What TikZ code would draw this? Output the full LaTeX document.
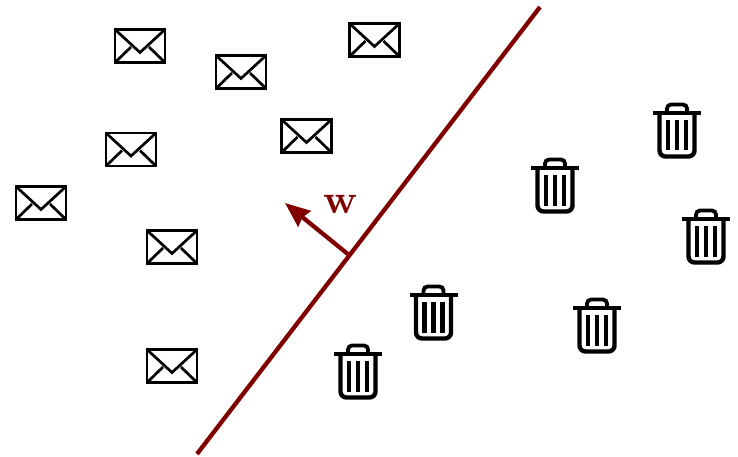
\documentclass[tikz,border=0pt]{standalone}
\usepackage{amssymb,amsmath}
\usetikzlibrary{arrows.meta}
\definecolor{darkred}{RGB}{128,0,0}
\tikzset{
  boundary/.style = {draw=darkred, line width=4.3pt},
  weight/.style = {draw=darkred, line width=4.3pt, -{Stealth[length=25pt,width=20pt,inset=2.5pt]}},
  pics/envelope/.style = {code = {
      \draw[line width=2.9pt] (-25,-16.5) rectangle (25,16.5);
      \draw[line width=2.7pt] (-25,-16.5) -- (0,6.5) -- (25,-16.5);
      \draw[line width=2.7pt] (-25,16.5) -- (-9,1);
      \draw[line width=2.7pt] (25,16.5) -- (9,1);
  }},
  pics/trashbin/.style = {code = {
      \draw[line width=4.2pt] (-24,-18) -- (24,-18);
      \draw[line width=3.8pt, rounded corners=4pt] (-10,-18) -- (-10,-26.5) -- (10,-26.5) -- (10,-18);
      \draw[line width=4.4pt, rounded corners=6pt] (-17.5,-18) -- (-17.5,25.5) -- (17.5,25.5) -- (17.5,-18);
      \draw[line width=4.6pt] (-9,-11) -- (-9,19.5);
      \draw[line width=4.6pt] (0,-11) -- (0,19.5);
      \draw[line width=4.6pt] (9,-11) -- (9,19.5);
  }}
}
\begin{document}
\begin{tikzpicture}[x=1pt, y=-1pt]
  \useasboundingbox (0,0) rectangle (738,457);

  \pic (mail1) at (140,46) {envelope};
  \pic (mail2) at (241,72) {envelope};
  \pic (mail3) at (374.5,40) {envelope};
  \pic (mail4) at (131,149.5) {envelope};
  \pic (mail5) at (306.5,136) {envelope};
  \pic (mail6) at (41,203) {envelope};
  \pic (mail7) at (172,247) {envelope};
  \pic (mail8) at (172,366) {envelope};

  \pic (bin1) at (677,131) {trashbin};
  \pic (bin2) at (555,186) {trashbin};
  \pic (bin3) at (706,237) {trashbin};
  \pic (bin4) at (433.5,313) {trashbin};
  \pic (bin5) at (597,326) {trashbin};
  \pic (bin6) at (358,372) {trashbin};

  \coordinate (a) at (197,454);
  \coordinate (b) at (540,7);
  \coordinate (foot) at (349,255);
  \coordinate (tip) at (285,203);
  \draw[boundary] (a) -- (b);
  \draw[weight] (foot) -- (tip);
  \node[text=darkred, scale=4.1] (w) at (340.5,204) {$\mathbf{w}$};
\end{tikzpicture}
\end{document}
